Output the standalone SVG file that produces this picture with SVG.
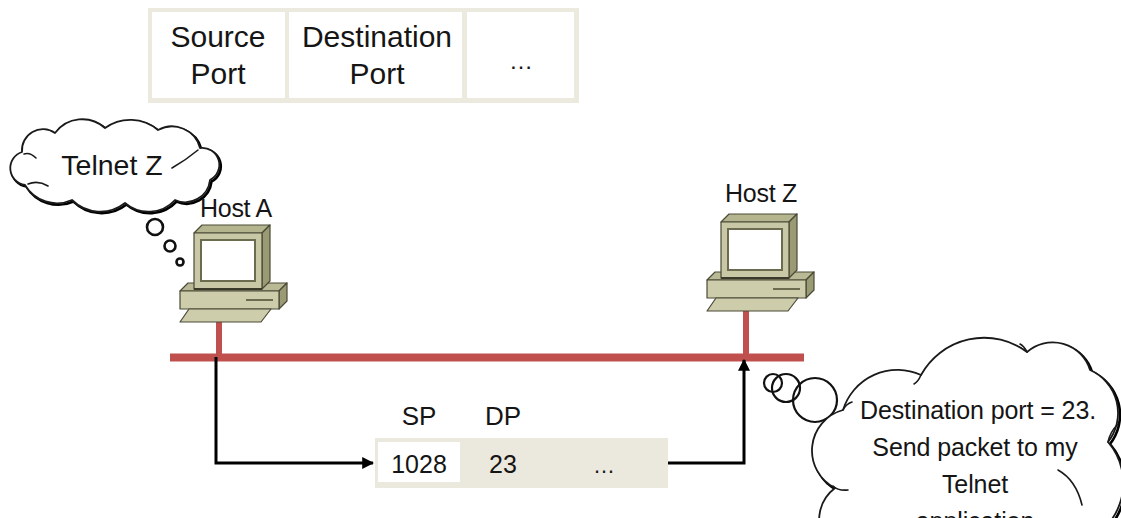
<svg xmlns="http://www.w3.org/2000/svg" xmlns:xlink="http://www.w3.org/1999/xlink" width="1121" height="518" viewBox="0 0 1121 518">
  <style>
    .txt { font-family: "Liberation Sans", Arial, sans-serif; fill: #151515; }
    .cloud { fill: #ffffff; stroke: #1a1a1a; stroke-width: 1.8; stroke-linejoin: round; }
    .cloud-sh { fill: none; stroke: #000000; stroke-width: 2.6; stroke-linejoin: round; }
    .curl { fill: none; stroke: #1a1a1a; stroke-width: 1.6; stroke-linecap: round; }
    .bubble { fill: none; stroke: #111111; stroke-width: 2.2; }
    .bus { stroke: #c0504d; fill: none; }
    .flow { fill: none; stroke: #000000; stroke-width: 3; }
    .pc-edge { stroke: #4a4a36; stroke-width: 1.2; stroke-linejoin: round; }
  </style>
  <defs>
    <marker id="arrow" viewBox="0 0 10 10" refX="9" refY="5" markerWidth="4" markerHeight="4" orient="auto" markerUnits="strokeWidth">
      <path d="M0,0 L10,5 L0,10 Z" fill="#000000"/>
    </marker>
    <!-- workstation icon: origin at top-left of the monitor -->
    <g id="pc">
      <!-- base unit -->
      <polygon class="pc-edge" points="-14,66 -6,58 93,58 85,66" fill="#b9b995"/>
      <polygon class="pc-edge" points="85,66 93,58 93,76 85,84" fill="#9a9a74"/>
      <rect class="pc-edge" x="-14" y="66" width="99" height="18" fill="#cdcdac"/>
      <line x1="52" y1="75" x2="79" y2="75" stroke="#6b6b50" stroke-width="2"/>
      <!-- monitor -->
      <polygon class="pc-edge" points="0,8 8,0 76,0 68,8" fill="#b4b48e"/>
      <polygon class="pc-edge" points="68,8 76,0 76,56 68,64" fill="#9a9a74"/>
      <rect class="pc-edge" x="0" y="8" width="68" height="56" fill="#c8c8a6"/>
      <rect x="7" y="15" width="54" height="41" fill="#ffffff" stroke="#6b6b50" stroke-width="2"/>
      <line x1="0" y1="64" x2="68" y2="64" stroke="#3a3a2a" stroke-width="2"/>
      <!-- keyboard -->
      <polygon class="pc-edge" points="-5,84 77,84 67,97 -14,97" fill="#cdcdac"/>
    </g>
  </defs>

  <!-- header field layout -->
  <g id="header">
    <rect x="148" y="8" width="431" height="95" fill="#eceadf"/>
    <rect x="152" y="12" width="133" height="86" fill="#ffffff"/>
    <rect x="289" y="12" width="173" height="86" fill="#ffffff"/>
    <rect x="467" y="12" width="107" height="86" fill="#ffffff"/>
    <text class="txt" x="218" y="47" font-size="30" text-anchor="middle">Source</text>
    <text class="txt" x="218" y="84" font-size="30" text-anchor="middle">Port</text>
    <text class="txt" x="377" y="47" font-size="30" text-anchor="middle">Destination</text>
    <text class="txt" x="377" y="84" font-size="30" text-anchor="middle">Port</text>
    <text class="txt" x="521" y="69" font-size="24" text-anchor="middle">…</text>
  </g>

  <!-- thought of Host A -->
  <g id="thought-a">
    <path class="cloud-sh" transform="translate(1.5,1.5)" d="M25,185 A17,17 0 0 1 22,152 A21,21 0 0 1 55,133 A34,34 0 0 1 105,128 A43,43 0 0 1 158,130 A29,29 0 0 1 200,148 A17,17 0 0 1 210,180 A25,25 0 0 1 175,200 A36,36 0 0 1 125,203 A40,40 0 0 1 72,200 A37,37 0 0 1 25,185 Z"/>
    <path class="cloud" d="M25,185 A17,17 0 0 1 22,152 A21,21 0 0 1 55,133 A34,34 0 0 1 105,128 A43,43 0 0 1 158,130 A29,29 0 0 1 200,148 A17,17 0 0 1 210,180 A25,25 0 0 1 175,200 A36,36 0 0 1 125,203 A40,40 0 0 1 72,200 A37,37 0 0 1 25,185 Z"/>
    <path class="curl" d="M24,154 Q30,152 36,158"/>
    <path class="curl" d="M198,150 Q186,160 172,168"/>
    <path class="curl" d="M28,184 Q38,180 48,186"/>
    <text class="txt" x="112" y="175" font-size="28.5" text-anchor="middle">Telnet Z</text>
    <circle cx="155" cy="227" r="8" fill="#ffffff" stroke="#111" stroke-width="2.6"/>
    <circle cx="170" cy="246" r="5.5" fill="#ffffff" stroke="#111" stroke-width="2.6"/>
    <circle cx="180" cy="262" r="3.5" fill="#ffffff" stroke="#111" stroke-width="2.6"/>
  </g>

  <!-- network segment -->
  <g id="network">
    <line class="bus" x1="170" y1="357.5" x2="804" y2="357.5" stroke-width="8"/>
    <line class="bus" x1="219" y1="321" x2="219" y2="357" stroke-width="6"/>
    <line class="bus" x1="746" y1="309" x2="746" y2="357" stroke-width="6"/>
  </g>

  <g id="host-a">
    <use xlink:href="#pc" x="194" y="225"/>
    <text class="txt" x="236" y="217" font-size="25" text-anchor="middle" letter-spacing="-0.3">Host A</text>
  </g>

  <g id="host-z">
    <use xlink:href="#pc" x="721" y="214"/>
    <text class="txt" x="761" y="202" font-size="25" text-anchor="middle" letter-spacing="-0.3">Host Z</text>
  </g>

  <!-- segment in transit -->
  <g id="packet">
    <rect x="375" y="438" width="293" height="50" fill="#ebe8de"/>
    <rect x="378" y="442" width="82" height="40" fill="#ffffff"/>
    <text class="txt" x="419" y="425" font-size="26" text-anchor="middle">SP</text>
    <text class="txt" x="503" y="425" font-size="26" text-anchor="middle">DP</text>
    <text class="txt" x="419" y="473" font-size="25" text-anchor="middle">1028</text>
    <text class="txt" x="503" y="473" font-size="25" text-anchor="middle">23</text>
    <text class="txt" x="604" y="473" font-size="22" text-anchor="middle">…</text>
  </g>

  <g id="connectors">
    <path class="flow" d="M216,357 V463 H373" marker-end="url(#arrow)"/>
    <path class="flow" d="M668,463 H744 V360" marker-end="url(#arrow)"/>
  </g>

  <!-- thought of Host Z -->
  <g id="thought-z">
    <circle class="bubble" cx="815" cy="400" r="22"/>
    <circle class="bubble" cx="786" cy="388" r="14"/>
    <circle class="bubble" cx="773" cy="383" r="9"/>
    <path class="cloud-sh" transform="translate(2,2)" d="M828,545 A40,40 0 0 1 835,488 A42,42 0 0 1 843,410 A57,57 0 0 1 921,375 A72,72 0 0 1 1027,352 A39,39 0 0 1 1090,370 A47,47 0 0 1 1108,442 A63,63 0 0 1 1072,545 Z"/>
    <path class="cloud" d="M828,545 A40,40 0 0 1 835,488 A42,42 0 0 1 843,410 A57,57 0 0 1 921,375 A72,72 0 0 1 1027,352 A39,39 0 0 1 1090,370 A47,47 0 0 1 1108,442 A63,63 0 0 1 1072,545 Z"/>
    <path class="curl" d="M833,486 Q838,491 848,490"/>
    <path class="curl" d="M843,410 Q846,404 852,402"/>
    <path class="curl" d="M921,375 Q918,382 914,384"/>
    <path class="curl" d="M1027,352 Q1024,346 1020,344"/>
    <path class="curl" d="M1108,442 Q1110,432 1118,424"/>
    <path class="curl" d="M1058,470 Q1076,480 1082,505"/>
    <text class="txt" x="978" y="419" font-size="25" text-anchor="middle" letter-spacing="-0.1">Destination port = 23.</text>
    <text class="txt" x="975" y="456" font-size="25" text-anchor="middle" letter-spacing="-0.1">Send packet to my</text>
    <text class="txt" x="975" y="493" font-size="25" text-anchor="middle" letter-spacing="-0.1">Telnet</text>
    <text class="txt" x="975" y="530" font-size="25" text-anchor="middle" letter-spacing="-0.1">application</text>
  </g>
</svg>
